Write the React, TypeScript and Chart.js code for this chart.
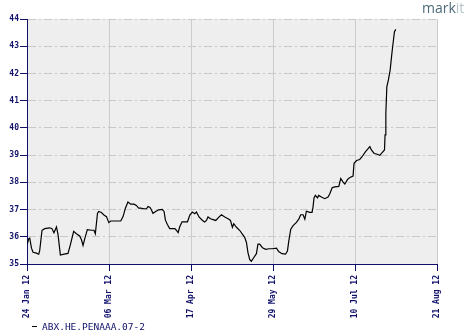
import React, { useEffect, useRef } from "react";
import { Chart, registerables } from "chart.js";

Chart.register(...registerables);

// ---- data ----
const seriesLabel = "ABX.HE.PENAAA.07-2";
const xTickLabels = ["24 Jan 12", "06 Mar 12", "17 Apr 12", "29 May 12", "10 Jul 12", "21 Aug 12"];
const xTickStepDays = 42;
const xMaxDays = 210;
const yMin = 35;
const yMax = 44;

// days since 24 Jan 2012
const dayOffsets = [
  0.2, 0.9, 1.4, 2.3, 3.1, 4.8, 6.0, 6.5, 7.7, 9.1, 11.6, 12.8, 13.8, 15.1, 15.9, 17.1, 19.0, 21.0, 22.2, 23.9,
  25.3, 27.0, 27.9, 28.7, 29.6, 30.9, 33.0, 34.3, 35.0, 36.1, 36.7, 38.1, 39.4, 40.7, 41.9, 42.9, 48.0, 49.2, 50.4, 51.7,
  53.1, 54.8, 56.0, 57.2, 58.2, 59.9, 61.2, 62.0, 63.0, 63.7, 64.5, 66.3, 67.5, 69.2, 70.2, 70.9, 71.9, 73.1, 75.7, 76.5,
  77.4, 78.2, 79.4, 82.2, 83.4, 84.7, 85.9, 86.8, 88.1, 89.9, 91.0, 91.9, 92.7, 94.0, 95.3, 96.7, 98.4, 99.6, 101.3, 103.0,
  104.2, 105.2, 105.9, 107.3, 109.0, 110.3, 111.5, 112.4, 113.2, 114.1, 114.9, 116.1, 117.5, 118.3, 119.2, 120.6, 122.3, 124.0, 125.7, 127.8,
  128.9, 130.6, 132.4, 133.4, 134.1, 135.1, 136.3, 138.0, 139.2, 140.2, 141.4, 142.3, 143.1, 144.8, 146.0, 146.5, 147.0, 147.7, 148.8, 149.4,
  150.8, 152.5, 154.2, 155.1, 156.3, 157.6, 159.7, 160.7, 161.9, 162.8, 164.2, 165.4, 167.0, 167.5, 168.8, 170.4, 171.6, 173.4, 174.4, 175.6,
  176.4, 177.8, 179.0, 180.7, 181.9, 183.1, 183.4, 183.8, 184.3, 185.1, 186.0, 186.9, 187.7, 188.2, 188.9,
];

const prices = [
  35.74, 35.93, 35.95, 35.58, 35.43, 35.40, 35.36, 35.49, 36.24, 36.30, 36.33, 36.30, 36.15, 36.36, 36.08, 35.33, 35.36, 35.39, 35.70, 36.20,
  36.11, 36.03, 35.89, 35.68, 35.93, 36.26, 36.24, 36.24, 36.11, 36.86, 36.93, 36.89, 36.80, 36.74, 36.52, 36.58, 36.58, 36.74, 37.05, 37.28,
  37.20, 37.20, 37.15, 37.05, 37.05, 37.03, 37.03, 37.11, 37.08, 36.99, 36.86, 36.95, 36.99, 37.01, 36.93, 36.61, 36.45, 36.30, 36.30, 36.24,
  36.15, 36.36, 36.55, 36.55, 36.80, 36.91, 36.85, 36.91, 36.73, 36.60, 36.54, 36.60, 36.73, 36.66, 36.63, 36.60, 36.73, 36.81, 36.73, 36.66,
  36.60, 36.35, 36.48, 36.35, 36.23, 36.10, 35.98, 35.79, 35.41, 35.16, 35.10, 35.23, 35.38, 35.73, 35.73, 35.60, 35.54, 35.56, 35.56, 35.58,
  35.46, 35.38, 35.36, 35.48, 35.85, 36.28, 36.41, 36.53, 36.65, 36.81, 36.81, 36.65, 36.94, 36.90, 36.90, 37.09, 37.43, 37.52, 37.43, 37.52,
  37.46, 37.40, 37.46, 37.58, 37.80, 37.83, 37.85, 38.14, 38.01, 37.94, 38.11, 38.18, 38.23, 38.70, 38.80, 38.84, 38.94, 39.13, 39.21, 39.31,
  39.19, 39.06, 39.04, 38.99, 39.09, 39.19, 39.74, 40.53, 41.51, 41.76, 42.12, 42.74, 43.23, 43.53, 43.62,
];

const NAVY = "#10106a";
const TICK_FONT = { family: "'DejaVu Sans Mono', monospace", size: 8, weight: "bold" as const };

const plotBackground = {
  id: "plotBackground",
  beforeDraw(chart: any) {
    const { ctx, chartArea } = chart;
    ctx.save();
    ctx.fillStyle = "#eeeeee";
    ctx.fillRect(chartArea.left, chartArea.top, chartArea.right - chartArea.left, chartArea.bottom - chartArea.top);
    ctx.restore();
  },
};

const decorations = {
  id: "decorations",
  afterDraw(chart: any) {
    const { ctx } = chart;
    ctx.save();
    // legend
    const label = chart.data.datasets[0].label;
    ctx.strokeStyle = "#000000";
    ctx.lineWidth = 1;
    ctx.beginPath();
    ctx.moveTo(32, 326.5);
    ctx.lineTo(37, 326.5);
    ctx.stroke();
    ctx.fillStyle = NAVY;
    ctx.font = "9.5px 'DejaVu Sans Mono', monospace";
    ctx.textBaseline = "alphabetic";
    ctx.textAlign = "left";
    ctx.fillText(label, 42, 330);
    // logo
    ctx.font = "14px 'Open Sans', sans-serif";
    ctx.fillStyle = "#4d6b7b";
    ctx.fillText("mark", 422, 13);
    const w = ctx.measureText("mark").width;
    ctx.fillStyle = "#b3c3cc";
    ctx.fillText("it", 422 + w, 13);
    ctx.restore();
  },
};

export default function App() {
  const canvasRef = useRef<HTMLCanvasElement | null>(null);

  useEffect(() => {
    if (!canvasRef.current) return;
    const points = dayOffsets.map((d, i) => ({ x: d, y: prices[i] }));
    const chart = new Chart(canvasRef.current, {
      type: "line",
      data: {
        datasets: [
          {
            label: seriesLabel,
            data: points,
            borderColor: "#000000",
            borderWidth: 1.2,
            pointRadius: 0,
            tension: 0,
            fill: false,
          },
        ],
      },
      options: {
        responsive: false,
        animation: false,
        layout: { padding: { top: 19, right: 36, bottom: 12, left: 0 } },
        plugins: { legend: { display: false }, tooltip: { enabled: false } },
        scales: {
          x: {
            type: "linear",
            min: 0,
            max: xMaxDays,
            afterFit(scale: any) {
              scale.height = 60;
            },
            ticks: {
              stepSize: xTickStepDays,
              autoSkip: false,
              maxRotation: 90,
              minRotation: 90,
              padding: 4,
              color: NAVY,
              font: TICK_FONT,
              callback: (v: any) => xTickLabels[Math.round(Number(v) / xTickStepDays)] ?? "",
            },
            grid: {
              color: "#cccccc",
              lineWidth: 1,
              tickColor: NAVY,
              tickLength: 7,
            },
            border: { display: true, color: NAVY, width: 1 },
          },
          y: {
            min: yMin,
            max: yMax,
            afterFit(scale: any) {
              scale.width = 27;
            },
            ticks: {
              stepSize: 1,
              padding: 1,
              color: NAVY,
              font: TICK_FONT,
            },
            grid: {
              color: "#c8c8c8",
              lineWidth: 1,
              tickColor: NAVY,
              tickLength: 7,
              tickBorderDash: [],
            },
            border: { display: true, color: NAVY, width: 1, dash: [8, 3, 2, 3] },
          },
        },
      },
      plugins: [plotBackground, decorations],
    });
    return () => chart.destroy();
  }, []);

  return (
    <div style={{ position: "fixed", left: 0, top: 0, width: 473, height: 336, background: "#ffffff" }}>
      <canvas ref={canvasRef} width={473} height={336} style={{ display: "block" }} />
    </div>
  );
}
